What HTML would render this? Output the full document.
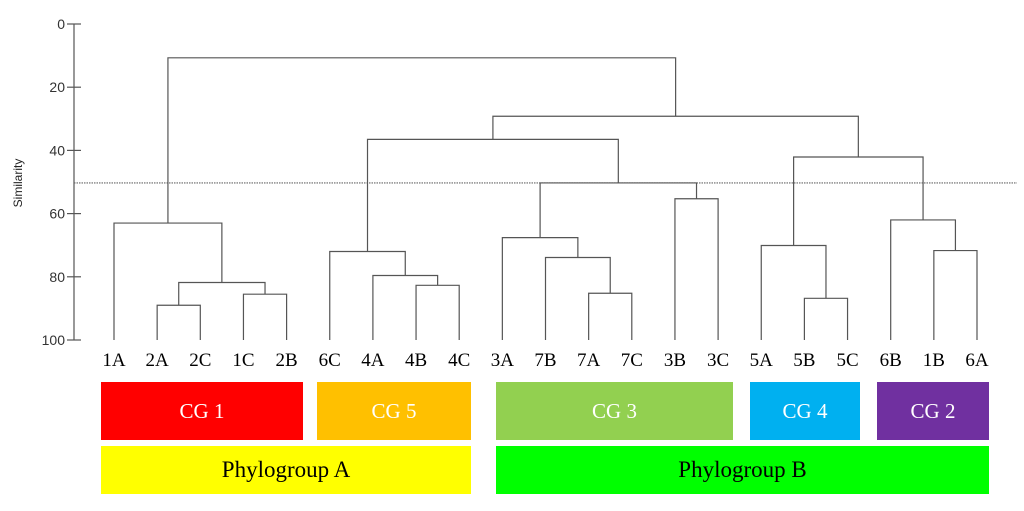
<!DOCTYPE html>
<html><head><meta charset="utf-8"><style>
body{margin:0;background:#fff;width:1024px;height:511px;overflow:hidden}
svg{display:block}
</style></head><body>
<svg id="chart" width="1024" height="511" viewBox="0 0 1024 511" xmlns="http://www.w3.org/2000/svg">
<g id="axis"></g>
<text transform="translate(22,183) rotate(-90)" text-anchor="middle" font-family="Liberation Sans, sans-serif" font-size="12" fill="#222">Similarity</text>
<g id="tree"></g>
<g id="leaves"></g>
<g id="boxes"></g>
</svg>
<script>
const ticks=[0,20,40,60,80,100];
const leaves=["1A","2A","2C","1C","2B","6C","4A","4B","4C","3A","7B","7A","7C","3B","3C","5A","5B","5C","6B","1B","6A"];
// merges: [left, right, similarity]; ints = leaf index, "mN" = merge N
const mergeLeft=[1,3,"m0",0,7,6,5,11,10,9,13,"m9","m6",16,15,19,18,"m14","m12","m3"];
const mergeRight=[2,4,"m1","m2",8,"m4","m5",12,"m7","m8",14,"m10","m11",17,"m13",20,"m15","m16","m17","m18"];
const mergeSim=[89,85.5,81.8,63,82.7,79.6,72,85.2,73.9,67.6,55.3,50.3,36.5,86.8,70.1,71.7,62,42.1,29.2,10.7];
const cutoff=50.3;
const groups=["CG 1","CG 5","CG 3","CG 4","CG 2"];
const phylo=["Phylogroup A","Phylogroup B"];
const NS="http://www.w3.org/2000/svg";
const y0=24,y1=340,x0=114,dx=43.15;
const Y=v=>y0+(y1-y0)*v/100;
const X=i=>x0+dx*i;
function mk(tag,attrs,parent){const e=document.createElementNS(NS,tag);for(const k in attrs)e.setAttribute(k,attrs[k]);parent.appendChild(e);return e;}
const ax=document.getElementById('axis');
mk('line',{x1:74,x2:74,y1:Y(0),y2:Y(100),stroke:'#555','stroke-width':1.2},ax);
ticks.forEach(t=>{
 const l=mk('line',{x1:67,x2:81,y1:Y(t),y2:Y(t),stroke:'#555','stroke-width':1.2},ax);
 
 
 const tx=mk('text',{x:65,y:Y(t)+5,'text-anchor':'end','font-family':'Liberation Sans, sans-serif','font-size':14,fill:'#333'},ax);
 tx.textContent=t;
 
 
});
const cl=mk('line',{x1:74,x2:1017,y1:Y(cutoff),y2:Y(cutoff),stroke:'#666','stroke-width':1.2,'stroke-dasharray':'1.5,1'},ax);


const tr=document.getElementById('tree');
const nx=[],ny=[];
function pos(n){if(typeof n==='number')return [X(n),Y(100)];const k=+n.slice(1);return [nx[k],ny[k]];}
mergeSim.forEach((s,i)=>{
 const a=pos(mergeLeft[i]),b=pos(mergeRight[i]),y=Y(s);
 const p=mk('path',{d:`M${a[0]},${a[1]}V${y}H${b[0]}V${b[1]}`,fill:'none',stroke:'#555','stroke-width':1.2},tr);
 
 
 nx[i]=(a[0]+b[0])/2;ny[i]=y;
});
const lv=document.getElementById('leaves');
leaves.forEach((n,i)=>{
 const t=mk('text',{x:X(i),y:366,'text-anchor':'middle','font-family':'Liberation Serif, serif','font-size':19,fill:'#000'},lv);
 t.textContent=n;
 
 
});
const bx=document.getElementById('boxes');
const gcol=['#ff0000','#ffc000','#92d050','#00b0f0','#7030a0'];
const gx=[[101,303],[317,471],[496,733],[750,860],[877,989]];
groups.forEach((g,i)=>{
 const r=mk('rect',{x:gx[i][0],y:382,width:gx[i][1]-gx[i][0],height:58,fill:gcol[i]},bx);
 
 
 const t=mk('text',{x:(gx[i][0]+gx[i][1])/2,y:418,'text-anchor':'middle','font-family':'Liberation Serif, serif','font-size':21,fill:'#fff'},bx);
 t.textContent=g;
 
 
});
const pcol=['#ffff00','#00ff00'];const px=[[101,471],[496,989]];
phylo.forEach((g,i)=>{
 const r=mk('rect',{x:px[i][0],y:446,width:px[i][1]-px[i][0],height:48,fill:pcol[i]},bx);
 
 
 const t=mk('text',{x:(px[i][0]+px[i][1])/2,y:477,'text-anchor':'middle','font-family':'Liberation Serif, serif','font-size':23,fill:'#000'},bx);
 t.textContent=g;
 
 
});
</script>
</body></html>
